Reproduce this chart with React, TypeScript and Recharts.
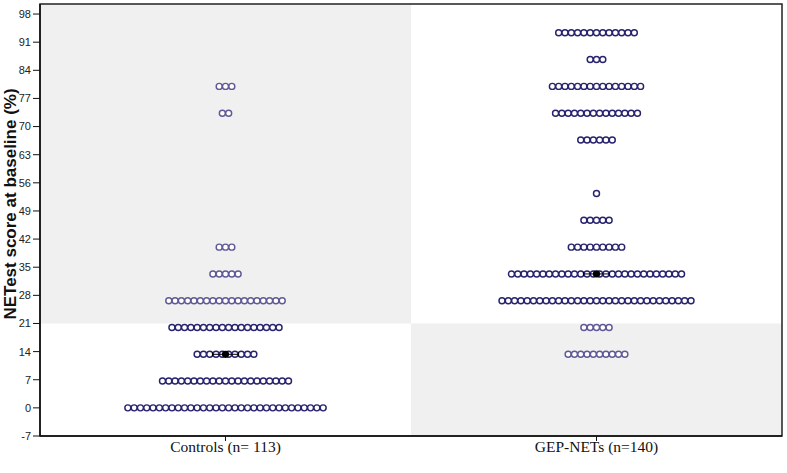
import React from 'react';
import {
  ScatterChart, Scatter, XAxis, YAxis, ReferenceArea
} from 'recharts';

// NETest scores come in steps of 1/15 (6.67%)
const scoreLevels = [0, 6.67, 13.33, 20, 26.67, 33.33, 40, 46.67, 53.33, 60, 66.67, 73.33, 80, 86.67, 93.33];
const controlsCounts = [32, 21, 10, 18, 19, 5, 3, 0, 0, 0, 0, 2, 3, 0, 0];
const gepNetsCounts = [0, 0, 10, 5, 31, 28, 9, 5, 1, 0, 6, 14, 15, 3, 13];
const medians = [13.33, 33.33];

const groupLabels = ['Controls (n= 113)', 'GEP-NETs (n=140)'];
const yTicks = [-7, 0, 7, 14, 21, 28, 35, 42, 49, 56, 63, 70, 77, 84, 91, 98];
const cutoff = 21;

const W = 787;
const H = 473;
const margin = { top: 4, right: 5, bottom: 0, left: 0 };
const Y_AXIS_W = 40;
const X_AXIS_H = 37;
const plotW = W - margin.left - margin.right - Y_AXIS_W;
const DOT_PITCH = 6.3; // px between neighbouring dots in a row
const step = DOT_PITCH / (plotW / 2);

type Pt = { x: number; y: number; light: boolean };

// lay each row of equal scores out side by side around the group centre
const buildDots = (counts: number[], group: number): Pt[] => {
  const pts: Pt[] = [];
  counts.forEach((n, i) => {
    const y = scoreLevels[i];
    const light = group === 0 ? y > cutoff : y < cutoff;
    for (let j = 0; j < n; j++) {
      pts.push({ x: group + 0.5 + (j - (n - 1) / 2) * step, y, light });
    }
  });
  return pts;
};

const controlsDots = buildDots(controlsCounts, 0);
const gepDots = buildDots(gepNetsCounts, 1);
const medianDots = medians.map((m, i) => ({ x: i + 0.5, y: m }));

const Dot = (props: any) => {
  const { cx, cy, payload } = props;
  return (
    <circle
      cx={cx}
      cy={cy}
      r={3}
      fill="#ffffff"
      stroke={payload.light ? '#5f5a96' : '#27236e'}
      strokeWidth={1.45}
    />
  );
};

const MedianMark = (props: any) => {
  const { cx, cy } = props;
  return (
    <g>
      <line x1={cx - 13} x2={cx + 13} y1={cy} y2={cy} stroke="#000" strokeWidth={1} />
      <line x1={cx - 13} x2={cx - 13} y1={cy - 2} y2={cy + 2} stroke="#000" strokeWidth={1} />
      <line x1={cx + 13} x2={cx + 13} y1={cy - 2} y2={cy + 2} stroke="#000" strokeWidth={1} />
      <circle cx={cx} cy={cy} r={3.6} fill="#000" />
    </g>
  );
};

const LABEL_X = 10;
const LABEL_Y = 204;

const YLabel = () => (
  <text
    x={LABEL_X}
    y={LABEL_Y}
    transform={`rotate(-90 ${LABEL_X} ${LABEL_Y})`}
    textAnchor="middle"
    dominantBaseline="central"
    fontFamily='"Liberation Sans", Arial, sans-serif'
    fontWeight="bold"
    fontSize={17}
    fill="#111"
  >
    NETest score at baseline (%)
  </text>
);

const App: React.FC = () => {
  return (
    <div style={{ position: 'absolute', left: 0, top: 0, width: W, height: H, background: '#fff' }}>
      <ScatterChart width={W} height={H} margin={margin}>
        <XAxis
          type="number"
          dataKey="x"
          domain={[0, 2]}
          ticks={[0.5, 1.5]}
          tickFormatter={(v: number) => (v < 1 ? groupLabels[0] : groupLabels[1])}
          height={X_AXIS_H}
          allowDataOverflow
          axisLine={{ stroke: '#111', strokeWidth: 1.5 }}
          tickLine={{ stroke: '#111' }}
          tickSize={5}
          tickMargin={0}
          tick={{ fontFamily: '"Liberation Serif", serif', fontSize: 15.5, fill: '#111' }}
        />
        <YAxis
          type="number"
          dataKey="y"
          domain={[-7, 100.5]}
          ticks={yTicks}
          interval={0}
          width={Y_AXIS_W}
          allowDataOverflow
          axisLine={{ stroke: '#111', strokeWidth: 1.5 }}
          tickLine={{ stroke: '#111' }}
          tickSize={7}
          tickMargin={2}
          tick={{ fontFamily: '"Liberation Sans", Arial, sans-serif', fontSize: 11, fill: '#222' }}
          label={<YLabel />}
        />
        <ReferenceArea x1={0} x2={1} y1={cutoff} y2={100.5} fill="#f0f0f0" fillOpacity={1} stroke="none" />
        <ReferenceArea x1={1} x2={2} y1={-7} y2={cutoff} fill="#f0f0f0" fillOpacity={1} stroke="none" />
        <Scatter data={controlsDots} shape={<Dot />} isAnimationActive={false} />
        <Scatter data={gepDots} shape={<Dot />} isAnimationActive={false} />
        <Scatter data={medianDots} shape={<MedianMark />} isAnimationActive={false} />
        <ReferenceArea x1={0} x2={2} y1={-7} y2={100.5} fill="none" stroke="#222" strokeWidth={1.5} />
      </ScatterChart>
    </div>
  );
};

export default App;
